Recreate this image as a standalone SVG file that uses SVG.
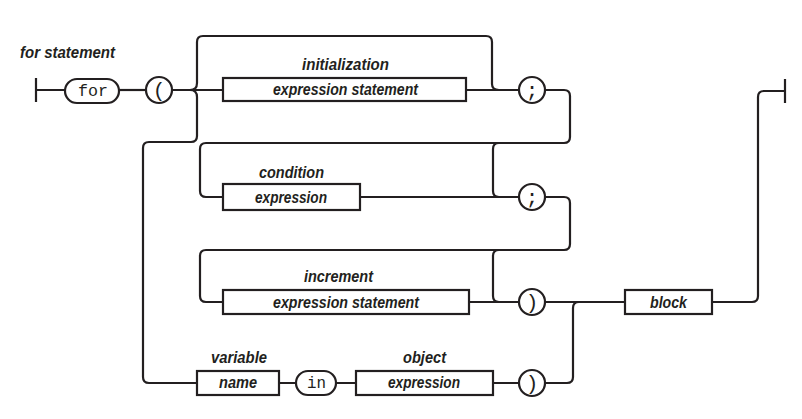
<svg xmlns="http://www.w3.org/2000/svg" width="802" height="419" viewBox="0 0 802 419">
<style>
.ln{fill:none;stroke:#231f20;stroke-width:2.2;stroke-linecap:butt;stroke-linejoin:round}
.bx{fill:#fff;stroke:#231f20;stroke-width:2.2}
.lbl{font-family:"Liberation Sans",Arial,sans-serif;font-weight:bold;font-style:italic;font-size:16.5px;fill:#231f20}
.mono{font-family:"Liberation Mono","DejaVu Sans Mono",monospace;font-size:17px;fill:#231f20}
.sym{font-family:"Liberation Mono","DejaVu Sans Mono",monospace;font-size:21px;fill:#231f20;text-anchor:middle}
</style>
<rect width="802" height="419" fill="#fff"/>
<text class="lbl" x="20" y="58" textLength="95" lengthAdjust="spacingAndGlyphs">for statement</text>
<g id="connectors">
<path class="ln" d="M36,78 V102 M36,90 H65"/>
<path class="ln" d="M119,90 H146"/>
<path class="ln" d="M172,90 H223"/>
<path class="ln" d="M190,90 Q197,90 197,83 V42 Q197,36 203,36 H486 Q492,36 492,42 V84 Q492,90 499,90"/>
<path class="ln" d="M190,90 Q197,90 197,97 V136 Q197,142 191,142 H149 Q143,142 143,148 V377 Q143,383 149,383 H197"/>
<path class="ln" d="M466,90 H519"/>
<path class="ln" d="M545,90 H564 Q570,90 570,96 V137 Q570,143 564,143 H206 Q200,143 200,149 V191 Q200,197 206,197 H223"/>
<path class="ln" d="M499,143 Q493,143 493,149 V191 Q493,197 499,197"/>
<path class="ln" d="M360,197 H519"/>
<path class="ln" d="M545,197 H564 Q570,197 570,203 V244 Q570,250 564,250 H206 Q200,250 200,256 V296 Q200,302 206,302 H223"/>
<path class="ln" d="M499,250 Q493,250 493,256 V296 Q493,302 499,302"/>
<path class="ln" d="M469,302 H519"/>
<path class="ln" d="M545,302 H625"/>
<path class="ln" d="M712,302 H752 Q758,302 758,296 V97 Q758,91 764,91 H785 M785,79 V103"/>
<path class="ln" d="M279,383 H296 M336,383 H356 M493,383 H519"/>
<path class="ln" d="M545,383 H567 Q573,383 573,377 V308 Q573,302 579,302"/>
</g>
<g id="for">
<rect class="bx" x="65" y="79" width="54" height="24" rx="12"/>
<text class="mono" x="78" y="96" textLength="30" lengthAdjust="spacingAndGlyphs">for</text>
</g>
<g id="lparen">
<circle class="bx" cx="159" cy="90" r="13"/>
<text class="sym" x="159" y="97">(</text>
</g>
<g id="initialization">
<text class="lbl" x="302" y="70" textLength="87" lengthAdjust="spacingAndGlyphs">initialization</text>
<rect class="bx" x="223" y="78" width="243" height="23"/>
<text class="lbl" x="273" y="95" textLength="145" lengthAdjust="spacingAndGlyphs">expression statement</text>
</g>
<g id="semi1">
<circle class="bx" cx="532" cy="90" r="13"/>
<text class="sym" x="532" y="97">;</text>
</g>
<g id="condition">
<text class="lbl" x="259" y="178" textLength="65" lengthAdjust="spacingAndGlyphs">condition</text>
<rect class="bx" x="223" y="184" width="137" height="26"/>
<text class="lbl" x="255" y="203" textLength="72" lengthAdjust="spacingAndGlyphs">expression</text>
</g>
<g id="semi2">
<circle class="bx" cx="532" cy="197" r="13"/>
<text class="sym" x="532" y="204">;</text>
</g>
<g id="increment">
<text class="lbl" x="304" y="282" textLength="69" lengthAdjust="spacingAndGlyphs">increment</text>
<rect class="bx" x="223" y="290" width="246" height="24"/>
<text class="lbl" x="273" y="308" textLength="146" lengthAdjust="spacingAndGlyphs">expression statement</text>
</g>
<g id="rparen1">
<circle class="bx" cx="532" cy="302" r="13"/>
<text class="sym" x="532" y="309">)</text>
</g>
<g id="block">
<rect class="bx" x="625" y="290" width="87" height="24"/>
<text class="lbl" x="650" y="308" textLength="37" lengthAdjust="spacingAndGlyphs">block</text>
</g>
<g id="variable">
<text class="lbl" x="211" y="363" textLength="56" lengthAdjust="spacingAndGlyphs">variable</text>
<rect class="bx" x="197" y="371" width="82" height="24"/>
<text class="lbl" x="219" y="388" textLength="38" lengthAdjust="spacingAndGlyphs">name</text>
</g>
<g id="in">
<rect class="bx" x="296" y="371" width="40" height="24" rx="12"/>
<text class="mono" x="307" y="388" textLength="19" lengthAdjust="spacingAndGlyphs">in</text>
</g>
<g id="object">
<text class="lbl" x="403" y="363" textLength="43" lengthAdjust="spacingAndGlyphs">object</text>
<rect class="bx" x="356" y="371" width="137" height="24"/>
<text class="lbl" x="388" y="388" textLength="72" lengthAdjust="spacingAndGlyphs">expression</text>
</g>
<g id="rparen2">
<circle class="bx" cx="532" cy="383" r="13"/>
<text class="sym" x="532" y="390">)</text>
</g>
</svg>
